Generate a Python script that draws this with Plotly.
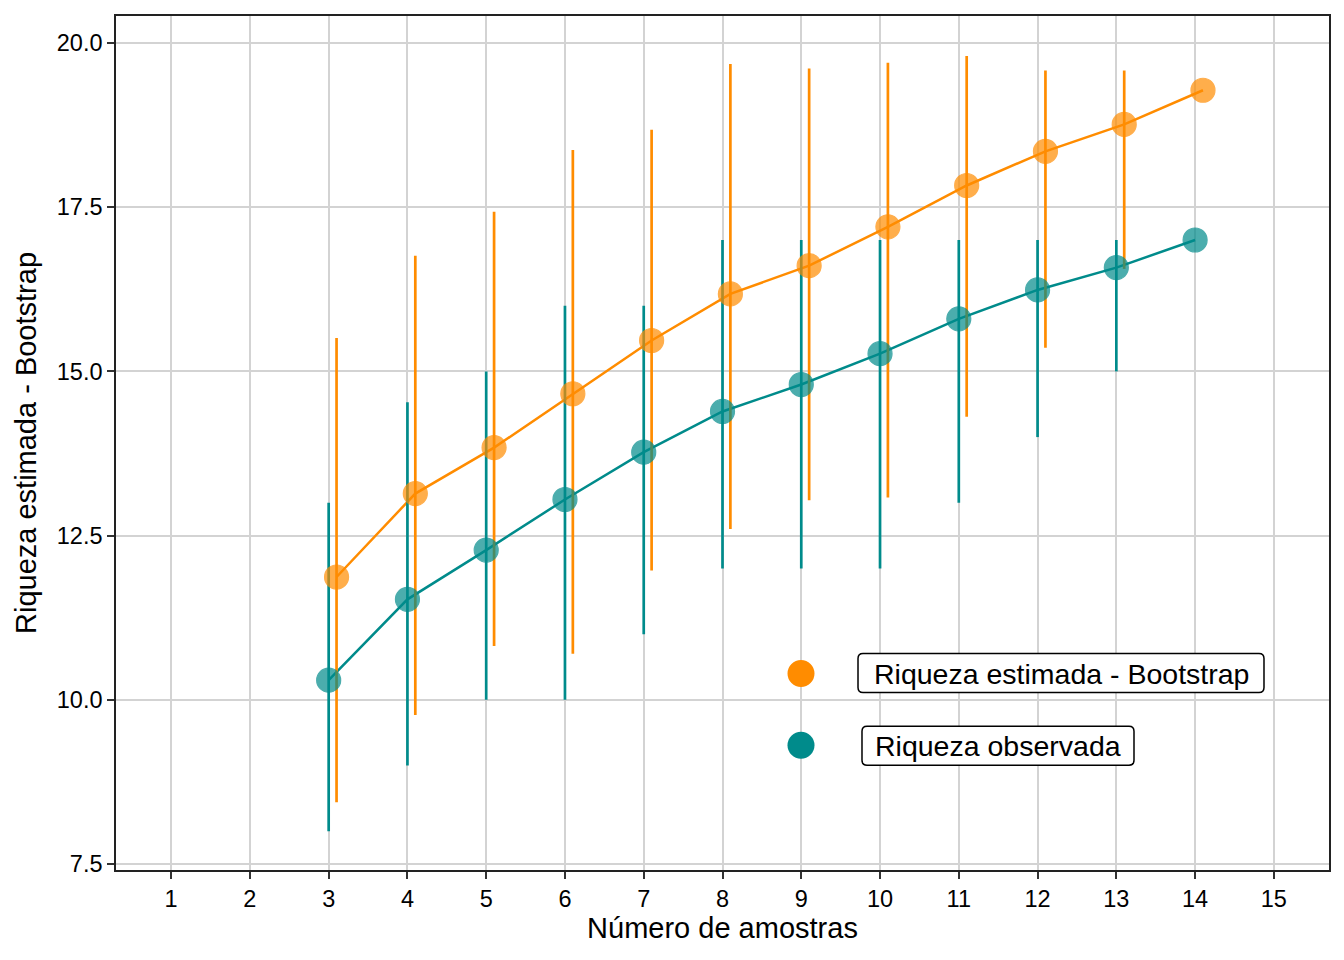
import plotly.graph_objects as go

amostras = [3, 4, 5, 6, 7, 8, 9, 10, 11, 12, 13, 14]
obs_mean = [10.30, 11.53, 12.28, 13.05, 13.77, 14.39, 14.80, 15.27, 15.80, 16.24, 16.58, 17.00]
obs_low = [8.0, 9.0, 10.0, 10.0, 11.0, 12.0, 12.0, 12.0, 13.0, 14.0, 15.0, 17.0]
obs_high = [13.0, 14.53, 15.0, 16.0, 16.0, 17.0, 17.0, 17.0, 17.0, 17.0, 17.0, 17.0]

boot_mean = [11.87, 13.14, 13.84, 14.66, 15.47, 16.18, 16.61, 17.20, 17.83, 18.35, 18.76, 19.28]
boot_low = [8.44, 9.77, 10.82, 10.70, 11.97, 12.60, 13.04, 13.08, 14.31, 15.36, 16.56, 19.28]
boot_high = [15.51, 16.76, 17.43, 18.37, 18.68, 19.68, 19.61, 19.70, 19.80, 19.58, 19.58, 19.28]

x_ticks = list(range(1, 16))
y_ticks = [7.5, 10, 12.5, 15, 17.5, 20]
y_ticklabels = ["7.5", "10.0", "12.5", "15.0", "17.5", "20.0"]

offset = 0.1
x_boot = [a + offset for a in amostras]

ORANGE = "#FF8C00"
TEAL = "#008B8B"
FONT = "Liberation Sans, Arial, Helvetica, sans-serif"

fig = go.Figure()

# lines
fig.add_trace(go.Scatter(x=amostras, y=obs_mean, mode="lines",
                         line=dict(color=TEAL, width=2.5), showlegend=False, hoverinfo="skip"))
fig.add_trace(go.Scatter(x=x_boot, y=boot_mean, mode="lines",
                         line=dict(color=ORANGE, width=2.5), showlegend=False, hoverinfo="skip"))

# error bars
fig.add_trace(go.Scatter(
    x=amostras, y=obs_mean, mode="markers", marker=dict(size=0.1, opacity=0),
    error_y=dict(type="data", symmetric=False,
                 array=[h - m for h, m in zip(obs_high, obs_mean)],
                 arrayminus=[m - l for m, l in zip(obs_mean, obs_low)],
                 color=TEAL, thickness=2.7, width=0),
    showlegend=False, hoverinfo="skip"))
fig.add_trace(go.Scatter(
    x=x_boot, y=boot_mean, mode="markers", marker=dict(size=0.1, opacity=0),
    error_y=dict(type="data", symmetric=False,
                 array=[h - m for h, m in zip(boot_high, boot_mean)],
                 arrayminus=[m - l for m, l in zip(boot_mean, boot_low)],
                 color=ORANGE, thickness=2.7, width=0),
    showlegend=False, hoverinfo="skip"))

# points
fig.add_trace(go.Scatter(x=amostras, y=obs_mean, mode="markers",
                         marker=dict(color=TEAL, size=24, opacity=0.7, line=dict(width=1.2, color=TEAL)),
                         name="Riqueza observada", showlegend=False))
fig.add_trace(go.Scatter(x=x_boot, y=boot_mean, mode="markers",
                         marker=dict(color=ORANGE, size=24, opacity=0.7, line=dict(width=1.2, color=ORANGE)),
                         name="Riqueza estimada - Bootstrap", showlegend=False))

# layout geometry (screen coords include 8px page margin)
W, H = 1336, 952
ml, mr, mt, mb = 108, 15, 6, 90
PX0, PX1, PY0, PY1 = 116, 1329, 14, 870

def px2paper(px, py):
    return (px - PX0) / (PX1 - PX0), (PY1 - py) / (PY1 - PY0)

def rounded_rect(x0s, y0s, x1s, y1s, r=5):
    def P(x, y):
        a, b = px2paper(x, y)
        return f"{a:.5f},{b:.5f}"
    return (f"M {P(x0s + r, y0s)} L {P(x1s - r, y0s)} Q {P(x1s, y0s)} {P(x1s, y0s + r)} "
            f"L {P(x1s, y1s - r)} Q {P(x1s, y1s)} {P(x1s - r, y1s)} "
            f"L {P(x0s + r, y1s)} Q {P(x0s, y1s)} {P(x0s, y1s - r)} "
            f"L {P(x0s, y0s + r)} Q {P(x0s, y0s)} {P(x0s + r, y0s)} Z")

shapes = []
for (cx, cy, col) in [(801, 673, ORANGE), (801, 745, TEAL)]:
    r = 13.5
    x0, y0 = px2paper(cx - r, cy + r)
    x1, y1 = px2paper(cx + r, cy - r)
    shapes.append(dict(type="circle", xref="paper", yref="paper", x0=x0, y0=y0, x1=x1, y1=y1,
                       fillcolor=col, line=dict(width=0)))

for (bx0, by0, bx1, by1) in [(858, 653, 1264, 692), (862, 726, 1134, 765)]:
    shapes.append(dict(type="path", xref="paper", yref="paper",
                       path=rounded_rect(bx0, by0, bx1, by1, 5),
                       fillcolor="white", line=dict(color="black", width=1.5), layer="above"))

annotations = []
for (cx, cy, txt) in [(1061, 674, "Riqueza estimada - Bootstrap"), (998, 746, "Riqueza observada")]:
    ax, ay = px2paper(cx, cy)
    annotations.append(dict(x=ax, y=ay, xref="paper", yref="paper", text=txt, showarrow=False,
                            font=dict(size=28.5, color="black", family=FONT),
                            xanchor="center", yanchor="middle"))

axis_common = dict(showgrid=True, gridcolor="#d3d3d3", gridwidth=2.2, zeroline=False,
                   showline=True, linecolor="#222222", linewidth=1.6, mirror=True,
                   ticks="outside", ticklen=7, tickcolor="#333333", tickwidth=2.2,
                   tickfont=dict(size=23.5, color="black", family=FONT))

fig.update_layout(
    width=W, height=H,
    margin=dict(l=ml, r=mr, t=mt, b=mb),
    plot_bgcolor="white", paper_bgcolor="white",
    font=dict(family=FONT, color="black"),
    shapes=shapes, annotations=annotations,
    xaxis=dict(range=[0.3, 15.7], tickmode="array", tickvals=x_ticks,
               ticktext=[str(i) for i in x_ticks],
               title=dict(text="Número de amostras", font=dict(size=29), standoff=4),
               **axis_common),
    yaxis=dict(range=[7.41, 20.41], tickmode="array", tickvals=y_ticks,
               ticktext=y_ticklabels,
               title=dict(text="Riqueza estimada - Bootstrap", font=dict(size=29), standoff=12),
               **axis_common),
)

fig.write_html("out.html")
